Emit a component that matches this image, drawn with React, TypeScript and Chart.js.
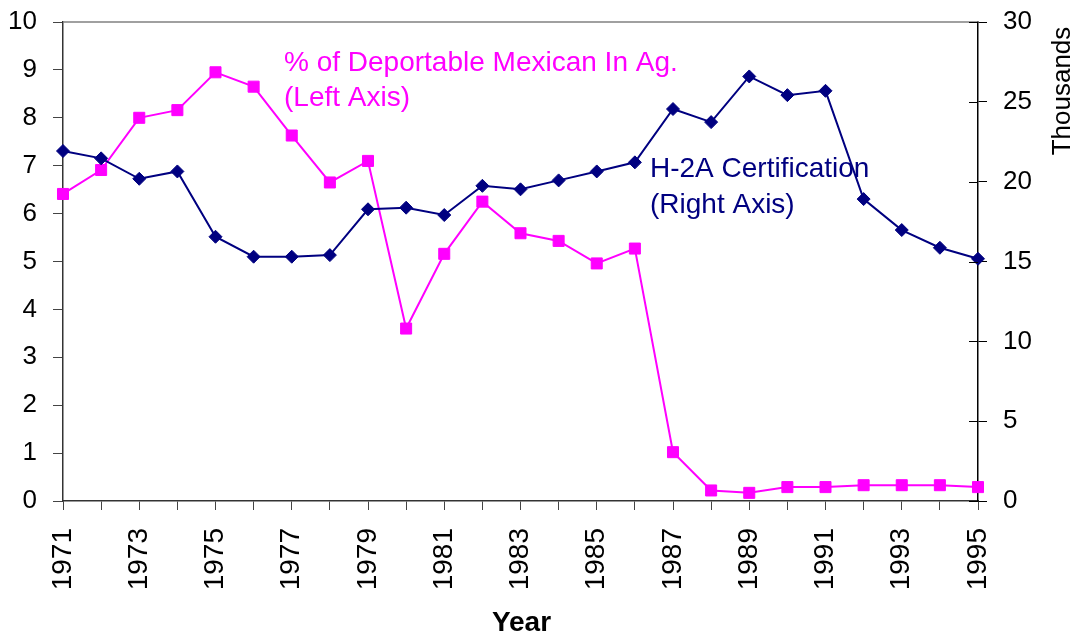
import React, { useEffect, useRef } from "react";
import { Chart, registerables } from "chart.js";

Chart.register(...registerables);

const years = [
  "1971", "1972", "1973", "1974", "1975", "1976", "1977", "1978", "1979", "1980",
  "1981", "1982", "1983", "1984", "1985", "1986", "1987", "1988", "1989", "1990",
  "1991", "1992", "1993", "1994", "1995",
];

// % of deportable Mexicans in agriculture (left axis)
const pctDeportable = [
  6.41, 6.91, 8.0, 8.16, 8.95, 8.65, 7.63, 6.65, 7.1, 3.6,
  5.16, 6.25, 5.59, 5.43, 4.96, 5.27, 1.02, 0.22, 0.17, 0.29,
  0.29, 0.33, 0.33, 0.33, 0.29,
];

// H-2A certifications, thousands (right axis)
const h2aCertification = [
  21.92, 21.46, 20.18, 20.64, 16.55, 15.3, 15.3, 15.4, 18.27, 18.37,
  17.91, 19.74, 19.52, 20.08, 20.64, 21.21, 24.55, 23.73, 26.59, 25.42,
  25.69, 18.91, 16.97, 15.86, 15.17,
];

const leftTicks = { min: 0, max: 10, step: 1 };
const rightTicks = { min: 0, max: 30, step: 5 };

const pctLabel = ["% of Deportable Mexican In Ag.", "(Left Axis)"];
const h2aLabel = ["H-2A Certification", "(Right Axis)"];
const xTitle = "Year";
const rightTitle = "Thousands";

const FONT = "'Liberation Sans', Arial, sans-serif";
const PINK = "#FF00FF";
const NAVY = "#000080";

const decorPlugin = {
  id: "decor",
  afterDraw(chart: any) {
    const ctx = chart.ctx;
    const area = chart.chartArea;
    const yR = chart.scales.yR;
    ctx.save();
    // top border of plot
    ctx.strokeStyle = "#808080";
    ctx.lineWidth = 1.5;
    ctx.beginPath();
    ctx.moveTo(area.left, area.top);
    ctx.lineTo(area.right, area.top);
    ctx.stroke();
    // inner halves of right-axis tick marks
    ctx.strokeStyle = "#000000";
    ctx.lineWidth = 1;
    for (const t of yR.ticks) {
      const y = Math.round(yR.getPixelForValue(t.value)) + 0.5;
      ctx.beginPath();
      ctx.moveTo(area.right - 9, y);
      ctx.lineTo(area.right, y);
      ctx.stroke();
    }
    // annotations
    ctx.font = `28px ${FONT}`;
    ctx.textAlign = "left";
    ctx.textBaseline = "alphabetic";
    ctx.fillStyle = PINK;
    ctx.fillText(pctLabel[0], 284, 71);
    ctx.fillText(pctLabel[1], 284, 106);
    ctx.fillStyle = NAVY;
    ctx.fillText(h2aLabel[0], 650, 177);
    ctx.fillText(h2aLabel[1], 650, 213);
    // x title
    ctx.fillStyle = "#000000";
    ctx.font = `bold 28px ${FONT}`;
    ctx.textAlign = "center";
    ctx.fillText(xTitle, (area.left + area.right) / 2 + 1, 631);
    // right title
    ctx.font = `26px ${FONT}`;
    ctx.translate(1070, 91);
    ctx.rotate(-Math.PI / 2);
    ctx.textAlign = "center";
    ctx.fillText(rightTitle, 0, 0);
    ctx.restore();
  },
};

export default function App() {
  const canvasRef = useRef<HTMLCanvasElement | null>(null);

  useEffect(() => {
    document.body.style.margin = "0";
    const canvas = canvasRef.current;
    if (!canvas) return;
    const chart = new Chart(canvas, {
      type: "line",
      data: {
        labels: years,
        datasets: [
          {
            label: "H-2A Certification",
            data: h2aCertification,
            yAxisID: "yR",
            borderColor: NAVY,
            backgroundColor: NAVY,
            borderWidth: 2,
            pointStyle: "rectRot",
            pointRadius: 6.5,
            pointBorderWidth: 1,
            pointBackgroundColor: NAVY,
            pointBorderColor: NAVY,
            tension: 0,
          },
          {
            label: "% of Deportable Mexican In Ag.",
            data: pctDeportable,
            yAxisID: "yL",
            borderColor: PINK,
            backgroundColor: PINK,
            borderWidth: 2,
            pointStyle: "rect",
            pointRadius: 7.8,
            pointBorderWidth: 1,
            pointBackgroundColor: PINK,
            pointBorderColor: PINK,
            tension: 0,
          },
        ],
      },
      options: {
        animation: false,
        responsive: true,
        maintainAspectRatio: false,
        layout: { padding: { top: 22, left: 0, right: 0, bottom: 0 } },
        plugins: {
          legend: { display: false },
          tooltip: { enabled: false },
        },
        scales: {
          x: {
            type: "category",
            offset: false,
            grid: {
              drawOnChartArea: false,
              drawTicks: true,
              tickLength: 9,
              color: "#444444",
            },
            border: { display: true, color: "#333333", width: 1.5 },
            ticks: {
              autoSkip: false,
              maxRotation: 90,
              minRotation: 90,
              padding: 18,
              color: "#000000",
              font: { family: FONT, size: 28 },
              callback: function (this: any, val: any, idx: number) {
                return idx % 2 === 0 ? this.getLabelForValue(val) : "";
              },
            },
            afterFit: (scale: any) => {
              scale.height = 135;
              scale.paddingLeft = 0;
              scale.paddingRight = 0;
            },
          },
          yL: {
            type: "linear",
            position: "left",
            min: leftTicks.min,
            max: leftTicks.max,
            grid: {
              drawOnChartArea: false,
              drawTicks: true,
              tickLength: 10,
              color: "#444444",
            },
            border: { display: true, color: "#333333", width: 1.5 },
            ticks: {
              stepSize: leftTicks.step,
              padding: 16,
              color: "#000000",
              font: { family: FONT, size: 26 },
            },
            afterFit: (scale: any) => {
              scale.width = 63;
              scale.paddingTop = 0;
              scale.paddingBottom = 0;
            },
          },
          yR: {
            type: "linear",
            position: "right",
            min: rightTicks.min,
            max: rightTicks.max,
            grid: {
              drawOnChartArea: false,
              drawTicks: true,
              tickLength: 9,
              color: "#000000",
            },
            border: { display: true, color: "#000000", width: 1.5 },
            ticks: {
              stepSize: rightTicks.step,
              padding: 16,
              color: "#000000",
              font: { family: FONT, size: 26 },
            },
            afterFit: (scale: any) => {
              scale.width = 100;
              scale.paddingTop = 0;
              scale.paddingBottom = 0;
            },
          },
        },
      },
      plugins: [decorPlugin],
    });
    return () => chart.destroy();
  }, []);

  return (
    <div style={{ position: "relative", width: 1078, height: 636, background: "#fff" }}>
      <canvas ref={canvasRef} />
    </div>
  );
}
